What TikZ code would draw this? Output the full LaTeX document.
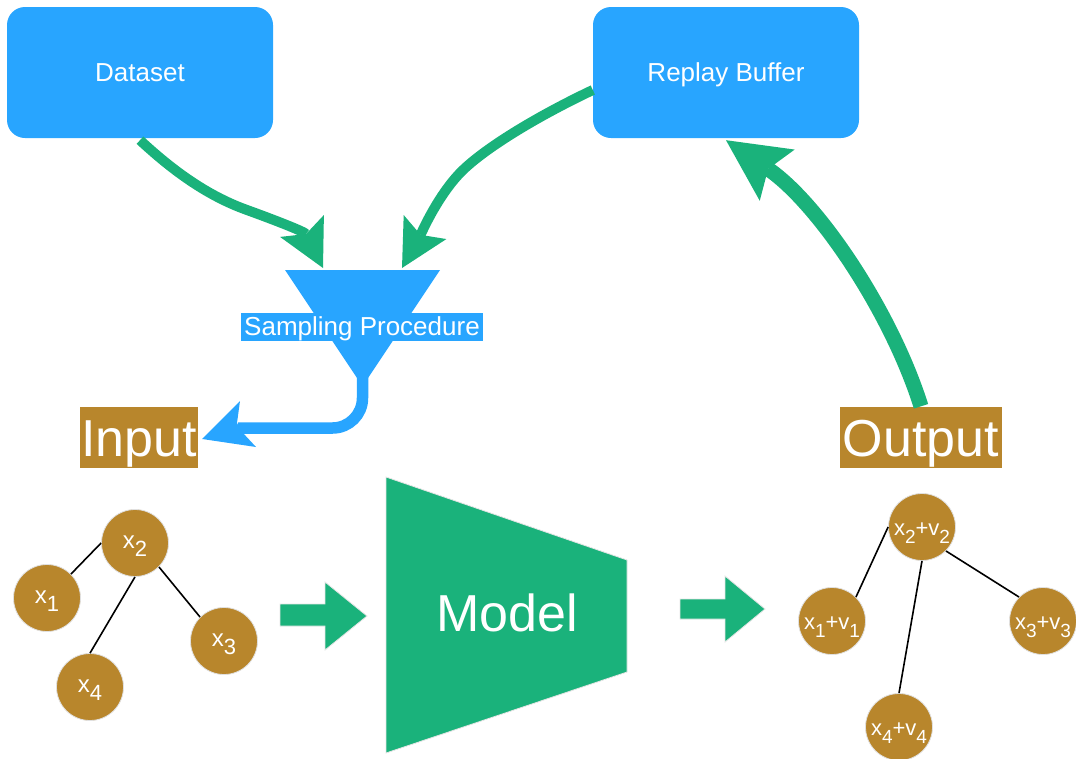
\documentclass[tikz,border=0pt]{standalone}
\usepackage{fontspec}
\setmainfont{Liberation Sans}
\usetikzlibrary{arrows.meta}
\definecolor{cblue}{RGB}{40,165,255}
\definecolor{cgreen}{RGB}{26,178,123}
\definecolor{cbrown}{RGB}{184,134,44}
\newcommand{\fsz}[1]{\fontsize{#1}{#1}\selectfont}
\newcommand{\isb}[1]{\raisebox{-8pt}{\fsz{22}#1}}
\newcommand{\osb}[1]{\raisebox{-8pt}{\fsz{19}#1}}
\begin{document}
\begin{tikzpicture}[x=1pt,y=-1pt,
  srcbox/.style={fill=cblue, rounded corners=18pt, minimum width=266pt, minimum height=131pt,
    inner sep=0pt, text=white, font=\fsz{26}, text height=18.7pt, text depth=0pt},
  tagbox/.style={fill=cbrown, text=white, font=\fsz{52}, inner sep=0pt,
    text height=50pt, text depth=11pt, minimum height=60pt},
  inode/.style={circle, fill=cbrown, draw=black!12, line width=0.8pt, minimum size=67pt,
    inner sep=0pt, text=white, font=\fsz{24}, text height=10pt, text depth=0pt},
  onode/.style={inode, font=\fsz{22}, text height=16pt},
  link/.style={line width=1.6pt, black},
  flowthin/.style={draw=cgreen, line width=10pt,
    -{Stealth[length=47pt, width=49pt, inset=9pt, line width=0pt]}},
  flowthick/.style={draw=cgreen, line width=15pt,
    -{Stealth[length=62pt, width=62pt, inset=11pt, line width=0pt]}},
  blockarrow/.style={fill=cgreen, draw=black!10, line width=0.8pt},
]
\useasboundingbox (0,0) rectangle (1076,758);

% source boxes
\node[srcbox] (ds) at (140,72.5) {Dataset};
\node[srcbox] (rb) at (726,72.5) {Replay Buffer};

% funnel
\fill[cblue] (285,270) -- (440,270) -- (368,378) -- (357,378) -- cycle;
\coordinate (fl) at (323,268);
\coordinate (fr) at (402,268);
\coordinate (fb) at (362.5,372);
\node[fill=cblue, text=white, font=\fsz{26}, inner xsep=3pt, inner ysep=0pt,
  text height=23.4pt, text depth=5.5pt] (sp) at (362,327) {Sampling Procedure};

% labels
\node[tagbox, minimum width=118pt] (inp) at (139,437) {Input};
\node[tagbox, minimum width=162pt] (out) at (921,437) {Output};

% green curved connectors
\draw[flowthin] ([yshift=-2pt]ds.south) .. controls (170,168) and (205,195) .. (247,210)
  .. controls (280,222) and (305,232) .. (fl);
\draw[flowthin] ([yshift=-17.5pt]rb.west) .. controls (540,115) and (488,146) .. (463,170)
  .. controls (438,194) and (420,236) .. (fr);
\draw[flowthick] (out.north) .. controls (891,311) and (818,203) .. ([yshift=-2pt]rb.south);

% blue connector funnel -> input
\coordinate (itip) at ([xshift=4pt,yshift=-2pt]inp.east);
\draw[cblue, line width=11.5pt, rounded corners=30pt] (fb) -- (362.5,428) -- (238,428);
\fill[cblue] (itip) -- (240,401) -- (237,423) -- (243,433) -- (256,447) -- cycle;

% input graph
\node[inode] (i2) at (135,543) {x\isb{2}};
\node[inode] (i1) at (47,598) {x\isb{1}};
\node[inode] (i3) at (224,641) {x\isb{3}};
\node[inode] (i4) at (90,687) {x\isb{4}};
\draw[link] (i2.west) -- (i1.45);
\draw[link] (i2.south) -- (i4.north);
\draw[link] (i2.-45) -- (i3.135);

% block arrows
\path[blockarrow] (280,604) -- (325,604) -- (325,582) -- (367,616) -- (325,650) -- (325,626) -- (280,626) -- cycle;
\path[blockarrow] (680,599) -- (725,599) -- (725,576) -- (765,609) -- (725,642) -- (725,619) -- (680,619) -- cycle;

% model
\path[fill=cgreen, draw=black!10, line width=0.8pt] (386,477) -- (627,560) -- (627,672) -- (386,753) -- cycle;
\node[text=white, font=\fsz{52}, inner sep=0pt, text height=37.4pt, text depth=0pt] (model) at (507,612.5) {Model};

% output graph
\node[onode] (o2) at (922,527) {x\osb{2}+v\osb{2}};
\node[onode] (o1) at (832,621) {x\osb{1}+v\osb{1}};
\node[onode] (o3) at (1043,621) {x\osb{3}+v\osb{3}};
\node[onode] (o4) at (899,727) {x\osb{4}+v\osb{4}};
\draw[link] (o2.west) -- (o1.45);
\draw[link] (o2.south) -- (o4.north);
\draw[link] (o2.-45) -- (o3.135);
\end{tikzpicture}
\end{document}
